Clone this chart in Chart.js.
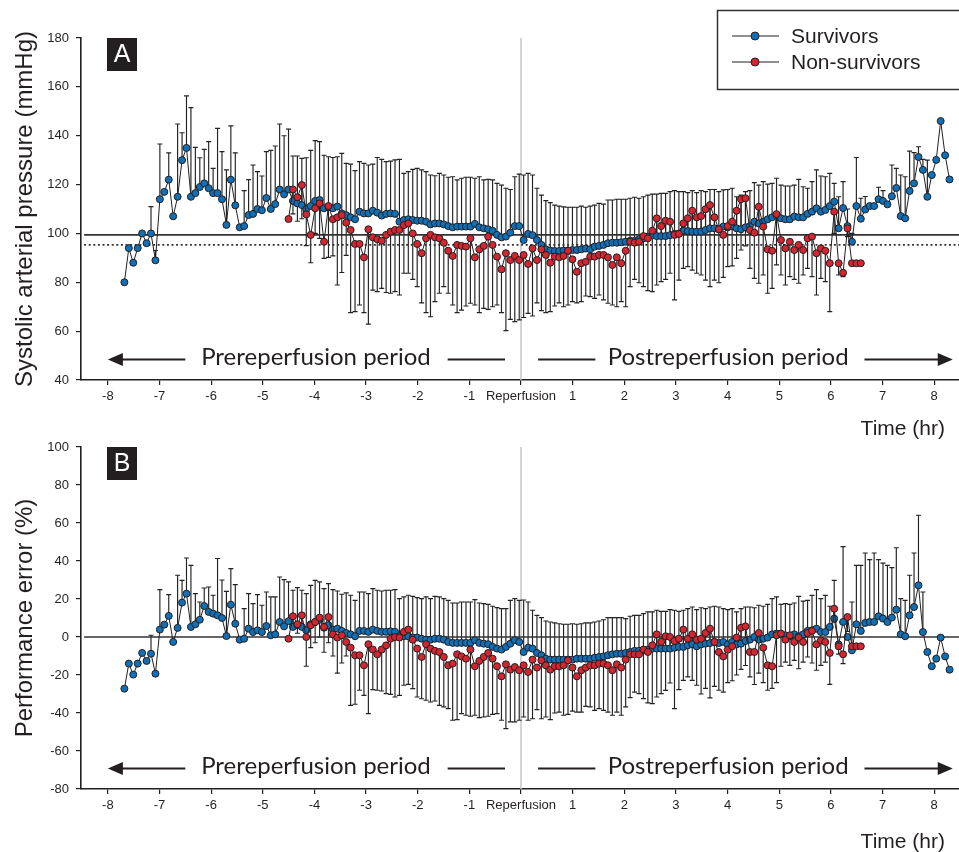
<!DOCTYPE html>
<html>
<head>
<meta charset="utf-8">
<script src="https://cdn.jsdelivr.net/npm/chart.js@4.4.1/dist/chart.umd.min.js"></script>
<style>
  body { margin: 0; background: #fff; overflow: hidden; }
  .panel { position: absolute; left: 0; width: 965px; }
  #panelA { top: 0; height: 440px; }
  #panelB { top: 430px; height: 422px; }
</style>
</head>
<body>
<div class="panel" id="panelA"><canvas id="sapChart"></canvas></div>
<div class="panel" id="panelB"><canvas id="peChart"></canvas></div>
<script>
// samples every ~5 min; survivors start at -7h40m, non-survivors join at sample 37 (-4h30m)
const sampleStart = -7.68;
const sampleStep = 0.0859;
const nonSurvivorsFirstSample = 37;

const timeTicks = [-8, -7, -6, -5, -4, -3, -2, -1, 0, 1, 2, 3, 4, 5, 6, 7, 8];
const sapTicks = [40, 60, 80, 100, 120, 140, 160, 180];
const peTicks = [-80, -60, -40, -20, 0, 20, 40, 60, 80, 100];
const sapTarget = 99.4;
const sapTargetLow = 95.3;
const peTarget = 0;

// Panel A: systolic arterial pressure (mmHg), mean and end of SD bar
const survivorsSap = [
  80, 94, 88, 94, 100, 96, 100, 89, 114, 117, 122, 107, 115, 130, 135, 115, 116.5, 119, 120.5, 118.5,
  116.5, 116.5, 114, 103.5, 122, 111.5, 102.5, 103, 107.5, 108, 110, 109.5, 114.5, 110, 112, 118, 116, 118,
  113.3, 112.3, 111.6, 109.9, 111.2, 113.3, 113.7, 110.3, 110.7, 110.3,
  111, 108.2, 107.5, 106.6, 105.8, 108.9, 108.2, 108.2, 109.3, 108.5,
  107.3, 108, 108.2, 108, 104.8, 105.5, 105.8, 105.5, 105.2, 105.2,
  104.8, 103.7, 104.1, 104.1, 103.7, 103, 102.5, 102.8, 102.8, 102.8,
  102.8, 103.9, 102.5, 102.1, 101.7, 101.1, 99.4, 98.4, 98.7, 100.3,
  103, 103, 97.3,
  99.8, 99.3, 97.3, 95.3, 93.5, 93, 92.8, 92.8, 93, 93,
  93.2, 93.2, 93.5, 93.8, 93.5, 94.6, 94.9, 95.3, 96, 96.2,
  96.2, 96.4, 96.6, 97, 97, 97.6, 98, 98.7, 99.3, 98.9,
  98.9, 98.9, 99.3, 99.8, 100, 101.1, 101, 100.7, 100.7,
  100.7, 101.4, 102.1, 102.1, 101.7, 102.8, 102.5, 103, 102.1, 101.7,
  102.5, 103, 104.8, 104.1, 104.8, 105.8, 106.6, 107.5, 106.2, 105.8,
  105.8, 106.9, 106.6, 106.6, 108, 108.9, 110.3, 108.9, 109.6, 111.2,
  113, 102.1, 110.4, 103, 96.6, 111.2, 106, 109.8, 111.2, 111.2,
  114, 113.3, 111.9, 115.2, 118.6, 107.1, 106.2, 117.4, 120.5, 131.3,
  126, 115, 123.9, 130.1, 146, 132, 122.1,
];
const survivorsSapUpper = [
  null, null, null, null, null, null, 111, 93, 136.6, null,
  133, null, 144.8, 141.2, 156.3, 151.5, 135.2, 131, 134.4, 137.6,
  126.6, 143, 133.5, 126, 144, 133, null, 117.5, 122, 128,
  125.3, 123.5, 133.5, 134, 135.8, 144.8, 140, 142.7,
  131.7, 131.7, 130.7, 131, 134, 138, 137.6, 132, 131.4, 131.1,
  131.4, 132.8, 128.7, 128.4, 125.7, 129.4, 128.7, 128, 128.4, 131.1,
  130.3, 129.4, 129.6, 130.1, 130.3, 124.6, 125.3, 126.2, 126.6, 126,
  125.3, 123.9, 123.6, 124.6, 123.9, 123, 123.2, 121.9, 122.6, 123,
  123, 122.6, 123.2, 121.9, 122.1, 121.9, 120.5, 119.8, 118.5, 118,
  123.2, 124.3, 123.9,
  124.6, 123.9, 118.5, 115.7, 113.4, 112.6, 111.6, 111.2, 110.9, 110.7,
  110.7, 110.7, 111.2, 110.7, 111.2, 111.6, 112.3, 112, 113.7, 113.7,
  114, 114, 114, 114.4, 114.8, 114.4, 115, 115.7, 116.1, 116.1,
  116.4, 116.4, 117.1, 117.5, 117.1, 117.1, 116.7, 117.5, 116.7,
  117.5, 117.1, 118, 118, 117.1, 117.8, 118, 118.5, 115, 115.7,
  117.1, 117.5, 120.8, 119.8, 121.2, 120.2, 120.5, 122.6, 119.8, 119.4,
  119.4, 119.8, 122.1, 119.1, 118.5, 121.2, 126, 123.5, 123.2, 124.6,
  120.5, 115, 121.2, 110, 100, 131.1, 114.4, 115.1, null, null,
  118.9, 117.5, null, 128, 126.6, 123.9, 123.2, 133.7, 133.1, 135.5,
  130.3, 130, null, null, null, null, null,
];
const nonSurvivorsSap = [
  105.9, 118, 114.8, 119.8, 107.8, 99.4, 110.3, 112.3, 96.6, 111.2,
  105.8, 106.6, 107.5, 104.4, 101.4, 95.7, 95.7, 90.2, 101.7, 98.4,
  97.6, 97, 99.4, 100.7, 101.4, 101.4, 103.4, 104.1, 100, 95.7,
  91.9, 98, 99.4, 98.4, 98, 96.2, 92.9, 90.8, 95.3, 94.9,
  94.6, 98, 90.2, 93.5, 94.9, 98.7, 95.3, 90.5, 85.3, 91.9,
  89.1, 90.8, 89.1, 91.2,
  87.5, 93.9, 89.1, 93.5, 91.2, 88, 90.5, 90.2, 90.8, 92.9,
  89.4, 84.3, 87.8, 88.4, 90.5, 90.5, 91.2, 91.2, 90.2, 87.1,
  90.2, 87.8, 92.9, 96.6, 96.2, 96.6, 98.9, 98, 101.1, 106.2,
  103, 105.2, 104.8, 99.4, 99.8, 104.1, 106.2, 109.3, 106.6,
  107.1, 109.9, 111.6, 106.6, 101.7, 99.4, 103, 104.8, 109.3, 114,
  114.4, 101.4, 100.3, 110.9, 102.8, 93.5, 92.9, 107.9, 97.3, 93.9,
  96.6, 93.2, 95.3, 93.2, 98, 98.7, 91.9, 93.9, 92.9, 87.8,
  108.9, 87.8, 83.9, 102.1, 87.8, 87.8, 87.8,
];
const nonSurvivorsSapLower = [
  null, 108, 105, 106, 95, 88, 100, 98, 89.8, 90.2,
  90.8, 78.9, 84, 91, 67.6, 68, 70.7, 67.6, 62.9, 76.8,
  76.2, 77.5, 75.8, 75.5, 76.2, 74.8, 83.7, 83.7, 81.2, 78.2,
  71.6, 67.6, 65.9, 72.1, 75.5, 78.2, 75.5, 70.7, 67.6, 68.6,
  70.3, 71.4, 70.7, 67.6, 69.3, 68.9, 70, 70.7, 67.6, 60.2,
  64.8, 63.9, 64.6, 65.6,
  67.3, 66.2, 71.6, 68.4, 67.6, 68, 70.3, 71.6, 70, 70.7,
  72.1, 71.6, 72.1, 74.4, 74.1, 73.4, 74.8, 72.8, 71.4, 70.7,
  70, 72.1, 70, 78.2, 81.2, 79.8, 78.2, 76.6, 76.2, 78.9,
  80.3, 81.2, 83.7, 72.8, 80.9, 85.7, 86.4, 85, 83.7,
  83, 80.9, 78.2, 80.9, 79.8, 82, 86.4, 86.7, 89.8, 93.2,
  94.9, 85.7, 81.6, 79.6, 83, 75.5, 77.5, 87.1, 83, 78.9,
  82.3, 81.2, 79.6, 83, 85.7, 82.3, 74.8, 81.6, 80.3, 68,
  100, 83, 82.3, 98.7, null, null, null,
];

// Panel B: performance error (%), mean and end of SD bar
const survivorsPe = [
  -27.2, -14, -19.8, -14, -8.4, -12.6, -8.8, -19.3, 3.9, 6.5,
  11.1, -2.6, 4.8, 18.1, 22.8, 5.3, 6.7, 9.1, 16.3, 13.2,
  12.3, 11.4, 10, 0.5, 17, 7, -1.4, -0.9, 4.4, 2.6,
  3.5, 2.6, 5.8, 0.9, 1.4, 7.9, 5.6, 8.3,
  5.3, 6.2, 5.3, 3.5, 6.7, 7.9, 9.1, 4.9, 6.2, 3.9,
  4.4, 3.2, 2.1, 1.4, 0.4, 3.2, 3.2, 2.7, 3.9, 3.2,
  2.7, 2.7, 3, 2.7, 0.4, 0.4, 0.4, -0.3, -0.3, -0.9,
  -1.4, -1.4, -0.9, -0.9, -1.4, -2.6, -3.1, -3.1, -3.1, -3.1,
  -3.1, -1.7, -3.1, -3.5, -3.8, -5.2, -6.1, -6.6, -5.2, -3.5,
  -1.7, -2.6, -7.9,
  -5.6, -6.1, -8.4, -9.6, -11.4, -11.9, -11.9, -11.9, -11.9, -11.9,
  -11.9, -11.4, -11.4, -11.4, -11.4, -10.9, -10.5, -10.2, -9.6, -9.1,
  -8.8, -8.8, -8.4, -7.9, -7.3, -7.3, -7, -6.7, -6.1, -6.1,
  -6.1, -6.1, -6.1, -5.6, -5.2, -5.2, -4.4, -3.8, -4.9,
  -3.9, -3.5, -3.2, -2.6, -3.2, -2.6, -3.9, -2.6, -3.9, -3.5,
  -2.1, -1.4, 0, -1.4, -0.9, -0.3, 1.4, 1.8, 1.4, 0.9,
  0.4, 1.4, 0.4, 1.4, 3.2, 3.5, 4.4, 2.6, 2.6, 5.3,
  9.7, -3.9, 7.9, 0, -7, 6.7, 3.2, 7.4, 7.9, 7.9,
  10.9, 9.7, 7.9, 10.2, 14.4, 1.4, 0.4, 11.4, 15.8, 27.2,
  2.6, -7.9, -15.4, -11.4, -0.3, -10.2, -17.2,
];
const survivorsPeUpper = [
  null, null, null, null, null, null, 0.9, null, 24.9, null,
  22.3, null, 32.5, 29.8, 41.6, 37.7, 22.8, 18.4, 25.8, 26.3,
  22, 41.3, 30, 24, 36, 27.6, null, 14.9, 22.8, 17.6,
  22.3, 16.7, 23.7, 21.1, 21.1, 31.6, 30.2, 29,
  24.6, 26, 24.6, 22.8, 27.2, 29.8, 29, 25.5, 28.1, 24.9,
  24.2, 22.5, 23.2, 22, 19.3, 23.7, 23.7, 22.8, 25.5, 24.6,
  24.2, 24.6, 24.6, 24.9, 20.2, 21.1, 22, 21.4, 20.7, 20.2,
  21.1, 20.2, 21.4, 21.1, 20.2, 19.3, 17.9, 17.9, 18.4, 18.4,
  18.4, 19.7, 17.9, 17.6, 17.2, 16.2, 15.5, 14.9, 14.9, 19.3,
  20.2, 19.3, 19.5,
  18.4, 14.1, 11.4, 10.2, 8.4, 7.9, 7.4, 7, 6.7, 6.7,
  7, 6.7, 7, 7.4, 7.4, 7.9, 8.4, 9.1, 10.2, 10.2,
  10.2, 10.2, 9.7, 10.9, 11.4, 11.4, 12.3, 13.2, 13.2, 14.1,
  13.5, 13.5, 14.4, 14.1, 13.5, 14.1, 14.9, 15.8, 14.4,
  15.4, 14.9, 15.8, 16.2, 15.8, 14.9, 14.4, 14.9, 13.2, 14.9,
  15.8, 15.8, 15.4, 16.7, 16.2, 17.2, 20.2, 21.1, 17.2, 17.6,
  17.2, 17.9, 21.4, 18.9, 19.3, 21.9, 24.9, 20.2, 21.9, 16.2,
  29.8, null, 47.6, null, 18.4, 37.7, 37.7, 44.2, 40.7, 44.2,
  40.7, 38.9, 37.7, 36.5, 47, 20.2, 19.3, 32.5, 44.2, 64.1,
  23.7, null, null, null, null, null, null,
];
const nonSurvivorsPe = [
  -0.9, 10.9, 6.7, 11.4, 0, 6.2, 7.9, 10.2, 5.3, 10.5,
  1.4, -0.3, 0.9, -2.6, -5.6, -9.6, -9.6, -14.9, -3.8, -6.6,
  -9.1, -6.6, -4.4, -0.9, 0, -0.3, 2.7, 3.9, -1.4, -6.1,
  -10.5, -3.8, -6.1, -7.3, -7.9, -10.5, -14.9, -14, -9.1, -10.2,
  -11.4, -6.6, -15.4, -12.6, -10.5, -8.4, -11.4, -15.4, -20.7, -14.4,
  -17.2, -15.8, -17.5, -14.9,
  -18.4, -11.9, -16.1, -12.3, -14.9, -17.2, -15.4, -15.4, -14.9, -12.3,
  -16.1, -20.7, -17.5, -16.1, -14.9, -14.9, -14, -14, -14.9, -17.5,
  -14.4, -16.1, -11.9, -9.1, -9.1, -9.1, -6.6, -7.9, -4.4, 1.4,
  -2.6, 0.4, 0, -2.1, -0.9, 3.9, -0.9, 1.4, -1.4,
  -0.9, 2.1, 4.4, -2.6, -7.9, -10.2, -6.7, -4.9, -0.3, 4.9,
  5.6, -7.9, -7.9, 2.1, -5.6, -14.9, -15.4, 0.9, 1.8, -1.4,
  0.9, -2.6, -0.3, -2.6, 2.1, 3.2, -3.9, -1.8, -2.6, -8.4,
  14.9, -4.9, -9.1, 10.5, -4.9, -4.9, -4.9,
];
const nonSurvivorsPeLower = [
  null, 5, 2, 4, -15.4, -5.6, -3, 0, -8, -3,
  -10, -19, -13.7, -10, -36, -35.4, -28, -30.7, -40.3, -27.7,
  -28, -28.4, -29.8, -30.2, -31.6, -30.7, -25.4, -24.9, -27.2, -31.6,
  -32.5, -33.3, -34.2, -33.7, -36, -36.8, -37.7, -43.8, -43.5, -40.3,
  -41.2, -41.7, -41.2, -42.4, -42.1, -41.7, -40.7, -40.3, -43.8, -48.2,
  -44.7, -44.7, -43.8, -42.1,
  -43.8, -43, -38.2, -43, -42.1, -43.5, -40, -39.5, -41.2, -40.7,
  -39, -39.5, -39.5, -36.5, -36.8, -38.6, -37.7, -38.6, -39.5, -41.2,
  -39.5, -41.2, -36.8, -31.9, -29, -29.8, -32.4, -34.7, -35.1, -31.6,
  -29.8, -28.1, -24.2, -37.7, -27.7, -22.8, -21, -22.8, -25.4,
  -30, -27, -32, -26, -28, -29, -24, -23, -20, -17,
  -15, -21, -25, -19, -24, -28, -27, -24, -15.4, -13.2,
  -14.9, -12.3, -16.7, -13.2, -10.5, -13.7, -17.5, -14.9, -13.2, -24.9,
  8, -9, -14, 3, null, null, null,
];

const survivorsTime = survivorsSap.map((_, i) => +(sampleStart + i * sampleStep).toFixed(4));
const nonSurvivorsTime = nonSurvivorsSap.map((_, i) => survivorsTime[i + nonSurvivorsFirstSample]);

const SURVIVOR_BLUE = "#0f70b7";
const NON_SURVIVOR_RED = "#d52530";
const INK = "#231f20";
const SANS = '"Liberation Sans", Arial, sans-serif';

function series(label, times, values, color, order) {
  return {
    label,
    order,
    data: values.map((v, i) => ({ x: times[i], y: v })),
    borderColor: INK,
    borderWidth: 1,
    pointRadius: 3.5,
    pointBackgroundColor: color,
    pointBorderColor: INK,
    pointBorderWidth: 1,
    tension: 0,
  };
}

function refLine(value, dash) {
  return {
    label: "ref",
    order: 5,
    data: [{ x: -8.46, y: value }, { x: 8.5, y: value }],
    borderColor: "#333",
    borderWidth: 1.6,
    borderDash: dash,
    pointRadius: 0,
  };
}

function panelDecor(cfg) {
  return {
    id: "panelDecor",
    beforeDatasetsDraw(chart) {
      const { ctx, chartArea: area, scales: { x, y } } = chart;
      ctx.save();
      // reperfusion marker
      const rx = x.getPixelForValue(0);
      ctx.strokeStyle = "#c6c6c6";
      ctx.lineWidth = 1.5;
      ctx.beginPath();
      ctx.moveTo(rx, area.top);
      ctx.lineTo(rx, area.bottom);
      ctx.stroke();
      // SD bars (survivors up, non-survivors down)
      ctx.strokeStyle = "#222";
      ctx.lineWidth = 1.15;
      cfg.errorBars.forEach((bar) => {
        bar.ends.forEach((end, i) => {
          if (end === null) return;
          const px = x.getPixelForValue(bar.times[i]);
          const from = y.getPixelForValue(bar.means[i]);
          const to = y.getPixelForValue(end);
          ctx.beginPath();
          ctx.moveTo(px, from);
          ctx.lineTo(px, to);
          ctx.moveTo(px - 2.5, to);
          ctx.lineTo(px + 2.5, to);
          ctx.stroke();
        });
      });
      ctx.restore();
    },
    afterDraw(chart) {
      const { ctx, chartArea: area, scales: { x, y } } = chart;
      ctx.save();
      // panel letter
      ctx.fillStyle = INK;
      ctx.fillRect(area.left + 26, area.top, 30, 33);
      ctx.fillStyle = "#fff";
      ctx.font = "25px " + SANS;
      ctx.textAlign = "center";
      ctx.textBaseline = "middle";
      ctx.fillText(cfg.letter, area.left + 41, area.top + 17.5);

      // period arrows
      const ay = Math.round(y.getPixelForValue(cfg.arrowLevel)) + 0.5;
      ctx.strokeStyle = INK;
      ctx.fillStyle = INK;
      ctx.lineWidth = 1.8;
      const seg = (a, b) => {
        ctx.beginPath();
        ctx.moveTo(x.getPixelForValue(a), ay);
        ctx.lineTo(x.getPixelForValue(b), ay);
        ctx.stroke();
      };
      const head = (tip, dir) => {
        const tx = x.getPixelForValue(tip);
        ctx.beginPath();
        ctx.moveTo(tx, ay);
        ctx.lineTo(tx + dir * 15, ay - 6.5);
        ctx.lineTo(tx + dir * 15, ay + 6.5);
        ctx.closePath();
        ctx.fill();
      };
      seg(-7.8, -6.5);
      head(-8.0, 1);
      seg(-1.42, -0.31);
      seg(0.33, 1.44);
      seg(6.65, 8.1);
      head(8.36, -1);
      ctx.font = "24px Lato, sans-serif";
      ctx.textBaseline = "alphabetic";
      ctx.fillText("Prereperfusion period", x.getPixelForValue(-3.97), ay + 5);
      ctx.fillText("Postreperfusion period", x.getPixelForValue(4.01), ay + 5);

      // axis titles
      ctx.font = "24px " + SANS;
      ctx.textBaseline = "middle";
      ctx.save();
      ctx.translate(25, (area.top + area.bottom) / 2);
      ctx.rotate(-Math.PI / 2);
      ctx.fillText(cfg.yTitle, 0, 0);
      ctx.restore();
      ctx.font = "21px " + SANS;
      ctx.textAlign = "right";
      ctx.fillText("Time (hr)", 945, cfg.timeTitleY);

      // legend
      if (cfg.legend) {
        ctx.lineWidth = 1.5;
        ctx.strokeStyle = "#333";
        ctx.strokeRect(717.5, 10.5, 260, 79);
        cfg.legend.forEach((item, k) => {
          const ly = 36 + k * 26;
          ctx.strokeStyle = INK;
          ctx.lineWidth = 1.2;
          ctx.beginPath();
          ctx.moveTo(732, ly);
          ctx.lineTo(779, ly);
          ctx.stroke();
          ctx.beginPath();
          ctx.arc(755, ly, 4, 0, Math.PI * 2);
          ctx.fillStyle = item.color;
          ctx.fill();
          ctx.lineWidth = 1;
          ctx.stroke();
          ctx.fillStyle = INK;
          ctx.textAlign = "left";
          ctx.fillText(item.label, 791, ly + 1);
        });
      }
      ctx.restore();
    },
  };
}

function makePanel(canvasId, p) {
  const tickFont = { family: SANS, size: 13 };
  return new Chart(document.getElementById(canvasId), {
    type: "line",
    data: { datasets: p.datasets },
    options: {
      responsive: true,
      maintainAspectRatio: false,
      animation: false,
      layout: { padding: { top: p.padTop, right: 0, bottom: 0, left: 0 } },
      plugins: { legend: { display: false }, tooltip: { enabled: false } },
      scales: {
        x: {
          type: "linear",
          min: -8.52,
          max: 8.5,
          afterBuildTicks: (s) => { s.ticks = timeTicks.map((v) => ({ value: v })); },
          afterFit: (s) => { s.height = p.xHeight; },
          ticks: {
            callback: (v) => (v === 0 ? "Reperfusion" : v),
            color: INK,
            font: tickFont,
            padding: 4,
            maxRotation: 0,
            autoSkip: false,
          },
          grid: { drawOnChartArea: false, tickLength: 5, color: INK, lineWidth: 1.2 },
          border: { color: INK, width: 1.6 },
        },
        y: {
          min: p.yTicks[0],
          max: p.yTicks[p.yTicks.length - 1],
          afterBuildTicks: (s) => { s.ticks = p.yTicks.map((v) => ({ value: v })); },
          afterFit: (s) => { s.width = 81; },
          ticks: { color: INK, font: tickFont, padding: 7 },
          grid: { drawOnChartArea: false, tickLength: 5, color: INK, lineWidth: 1.2 },
          border: { color: INK, width: 1.6 },
        },
      },
    },
    plugins: [panelDecor(p.decor)],
  });
}

const sapChart = makePanel("sapChart", {
  padTop: 38,
  xHeight: 60,
  yTicks: sapTicks,
  datasets: [
    series("Survivors", survivorsTime, survivorsSap, SURVIVOR_BLUE, 1),
    series("Non-survivors", nonSurvivorsTime, nonSurvivorsSap, NON_SURVIVOR_RED, 0),
    refLine(sapTarget, []),
    refLine(sapTargetLow, [2, 2.6]),
  ],
  decor: {
    letter: "A",
    yTitle: "Systolic arterial pressure (mmHg)",
    arrowLevel: 48.6,
    timeTitleY: 429,
    errorBars: [
      { times: survivorsTime, means: survivorsSap, ends: survivorsSapUpper },
      { times: nonSurvivorsTime, means: nonSurvivorsSap, ends: nonSurvivorsSapLower },
    ],
    legend: [
      { label: "Survivors", color: SURVIVOR_BLUE },
      { label: "Non-survivors", color: NON_SURVIVOR_RED },
    ],
  },
});

const peChart = makePanel("peChart", {
  padTop: 17,
  xHeight: 63,
  yTicks: peTicks,
  datasets: [
    series("Survivors", survivorsTime, survivorsPe, SURVIVOR_BLUE, 1),
    series("Non-survivors", nonSurvivorsTime, nonSurvivorsPe, NON_SURVIVOR_RED, 0),
    refLine(peTarget, []),
  ],
  decor: {
    letter: "B",
    yTitle: "Performance error (%)",
    arrowLevel: -68.9,
    timeTitleY: 412,
    errorBars: [
      { times: survivorsTime, means: survivorsPe, ends: survivorsPeUpper },
      { times: nonSurvivorsTime, means: nonSurvivorsPe, ends: nonSurvivorsPeLower },
    ],
    legend: null,
  },
});
</script>
</body>
</html>
